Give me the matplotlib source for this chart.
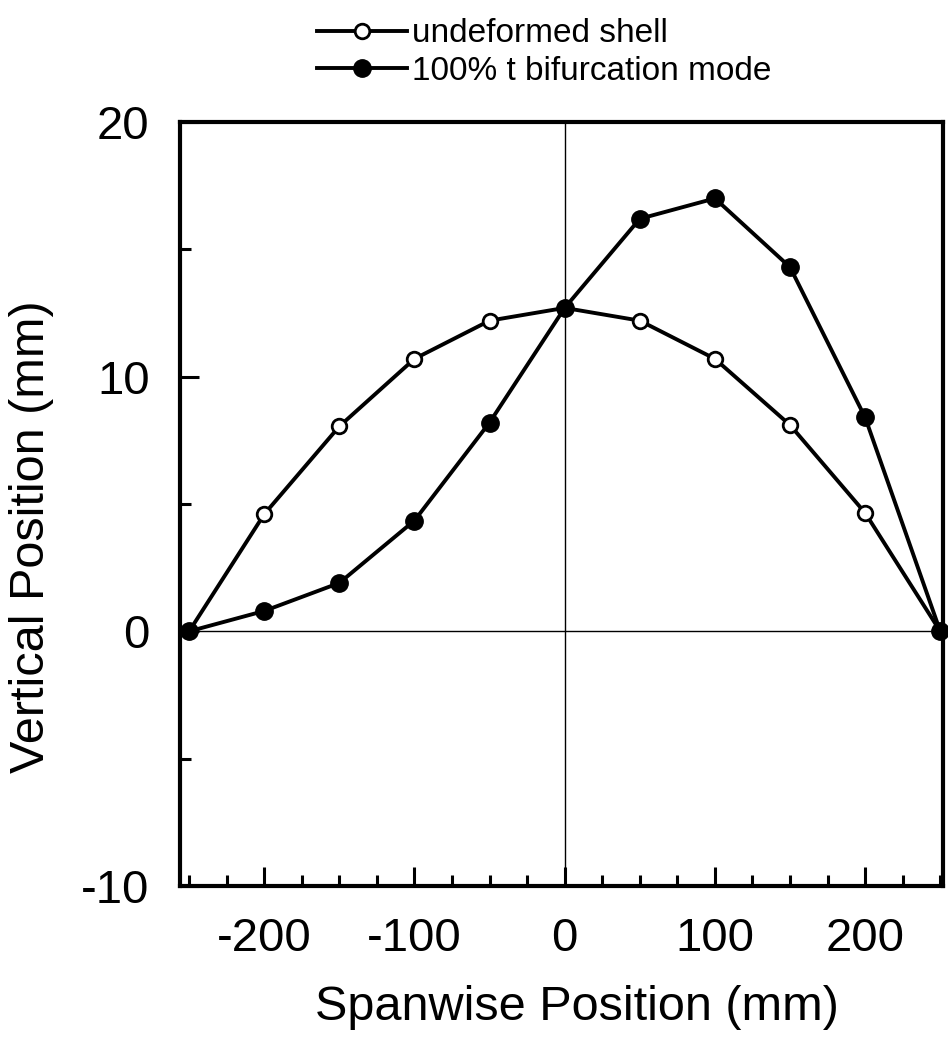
import numpy as np
import matplotlib
matplotlib.use("Agg")
import matplotlib.pyplot as plt
from matplotlib.ticker import MultipleLocator

plt.rcParams['font.family'] = ['Liberation Sans', 'DejaVu Sans']
plt.rcParams['axes.unicode_minus'] = False

# spanwise stations (mm)
span_mm = [-250, -200, -150, -100, -50, 0, 50, 100, 150, 200, 250]
# vertical position (mm)
undeformed = [0.0, 4.6, 8.05, 10.7, 12.2, 12.7, 12.2, 10.7, 8.1, 4.65, 0.0]
bifurcation = [0.0, 0.8, 1.9, 4.35, 8.2, 12.7, 16.2, 17.0, 14.3, 8.4, 0.0]

x_ticks = [-200, -100, 0, 100, 200]
y_ticks = [-10, 0, 10, 20]
labels = ['undeformed shell', '100% t bifurcation mode']

fig = plt.figure(figsize=(9.48, 10.5), dpi=100, facecolor='white')
ax = fig.add_axes([0.190, 0.1562, 0.805, 0.7276])

# thin reference lines through the origin
ax.axhline(0, color='black', lw=1.0, zorder=1)
ax.axvline(0, color='black', lw=1.0, zorder=1)

l1, = ax.plot(span_mm, undeformed, color='black', lw=2.8, marker='o', ms=10.5,
              mfc='white', mec='black', mew=2.0, zorder=3, clip_on=False)
l2, = ax.plot(span_mm, bifurcation, color='black', lw=2.8, marker='o', ms=12.5,
              mfc='black', mec='black', zorder=4, clip_on=False)

ax.set_xlim(-256, 252)
ax.set_ylim(-10, 20)
ax.set_xticks(x_ticks)
ax.set_yticks(y_ticks)
ax.xaxis.set_minor_locator(MultipleLocator(25))
ax.yaxis.set_minor_locator(MultipleLocator(5))
ax.tick_params(which='both', direction='in', width=2.2, labelsize=34, pad=22,
               top=False, right=False)
ax.tick_params(which='major', length=14)
ax.tick_params(which='minor', length=8)

for sp in ax.spines.values():
    sp.set_linewidth(3.0)

ax.set_xlabel('Spanwise Position (mm)', fontsize=35)
ax.set_ylabel('Vertical Position (mm)', fontsize=35)
ax.xaxis.set_label_coords(0.52, -0.13)
ax.yaxis.set_label_coords(-0.165, 0.457)

fig.legend([l1, l2], labels, loc='upper left', bbox_to_anchor=(0.315, 1.0),
           frameon=False, fontsize=24, handlelength=2.7, handletextpad=0.15,
           labelspacing=0.2, borderaxespad=0.15, numpoints=1)

plt.savefig('out.png', dpi=100, facecolor='white')
